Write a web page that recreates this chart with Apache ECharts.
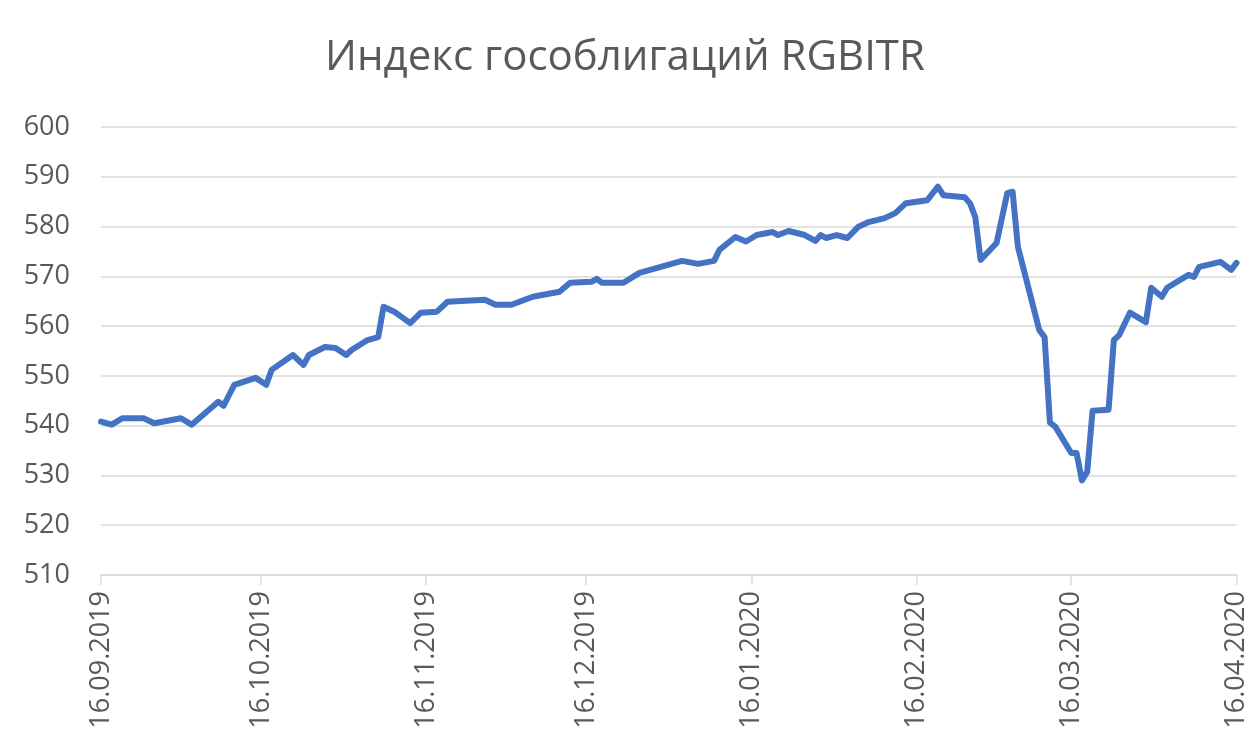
<!DOCTYPE html>
<html>
<head>
<meta charset="utf-8">
<script src="https://cdn.jsdelivr.net/npm/echarts@6/dist/echarts.min.js"></script>
<style>
  html, body { margin: 0; padding: 0; background: #fff; }
  #chart { width: 1250px; height: 739px; }
</style>
</head>
<body>
<div id="chart"></div>
<script>
// RGBITR
const dates = [
  '2019-09-16', '2019-09-18', '2019-09-20', '2019-09-24', '2019-09-26', '2019-10-01', '2019-10-03',
  '2019-10-08', '2019-10-09', '2019-10-11', '2019-10-15', '2019-10-17', '2019-10-18', '2019-10-22',
  '2019-10-24', '2019-10-25', '2019-10-28', '2019-10-30', '2019-11-01', '2019-11-02', '2019-11-05',
  '2019-11-07', '2019-11-08', '2019-11-10', '2019-11-13', '2019-11-15', '2019-11-18', '2019-11-20',
  '2019-11-27', '2019-11-29', '2019-12-02', '2019-12-06', '2019-12-11', '2019-12-13', '2019-12-17',
  '2019-12-18', '2019-12-19', '2019-12-23', '2019-12-26', '2019-12-28', '2020-01-03', '2020-01-06',
  '2020-01-09', '2020-01-10', '2020-01-13', '2020-01-15', '2020-01-17', '2020-01-20', '2020-01-21',
  '2020-01-23', '2020-01-26', '2020-01-28', '2020-01-29', '2020-01-30', '2020-02-01', '2020-02-03',
  '2020-02-05', '2020-02-07', '2020-02-10', '2020-02-12', '2020-02-14', '2020-02-18', '2020-02-20',
  '2020-02-21', '2020-02-25', '2020-02-26', '2020-02-27', '2020-02-28', '2020-03-02', '2020-03-04',
  '2020-03-05', '2020-03-06', '2020-03-10', '2020-03-11', '2020-03-12', '2020-03-13', '2020-03-16',
  '2020-03-17', '2020-03-18', '2020-03-19', '2020-03-20', '2020-03-23', '2020-03-24', '2020-03-25',
  '2020-03-27', '2020-03-30', '2020-03-31', '2020-04-02', '2020-04-03', '2020-04-07', '2020-04-08',
  '2020-04-09', '2020-04-13', '2020-04-15', '2020-04-16'
];
const values = [
  540.8, 540.2, 541.5, 541.5, 540.5, 541.5, 540.2,
  544.8, 544.0, 548.2, 549.6, 548.2, 551.2, 554.2,
  552.2, 554.2, 555.8, 555.6, 554.2, 555.2, 557.2,
  557.8, 563.9, 562.9, 560.6, 562.7, 562.9, 564.9,
  565.3, 564.3, 564.3, 565.9, 566.9, 568.7, 568.9,
  569.5, 568.7, 568.7, 570.7, 571.3, 573.1, 572.5,
  573.1, 575.3, 577.9, 577.0, 578.3, 578.9, 578.3,
  579.1, 578.3, 577.1, 578.3, 577.7, 578.3, 577.7,
  579.9, 580.9, 581.7, 582.7, 584.7, 585.3, 588.0,
  586.3, 585.9, 584.7, 581.9, 573.3, 576.7, 586.7,
  587.0, 575.9, 559.2, 557.8, 540.6, 539.8, 534.5,
  534.5, 529.0, 530.7, 543.0, 543.2, 557.2, 558.2,
  562.7, 560.8, 567.7, 565.9, 567.7, 570.3, 569.9,
  571.9, 572.9, 571.3, 572.7
];
const tickDates = [
  '2019-09-16', '2019-10-16', '2019-11-16', '2019-12-16',
  '2020-01-16', '2020-02-16', '2020-03-16', '2020-04-16'
];

// dates -> whole days since the first tick (UTC, so no DST drift)
const DAY = 86400000;
const utc = s => {
  const [y, m, d] = s.split('-').map(Number);
  return Date.UTC(y, m - 1, d);
};
const start = utc(tickDates[0]);
const dayOf = s => Math.round((utc(s) - start) / DAY);
const pad = n => (n < 10 ? '0' : '') + n;
const fmtDay = v => {
  const d = new Date(start + v * DAY);
  return pad(d.getUTCDate()) + '.' + pad(d.getUTCMonth() + 1) + '.' + d.getUTCFullYear();
};

const ticks = tickDates.map(dayOf);
const seriesData = dates.map((d, i) => [dayOf(d), values[i]]);

const chart = echarts.init(document.getElementById('chart'));
chart.setOption({
  animation: false,
  title: {
    text: 'Индекс гособлигаций RGBITR',
    left: 'center',
    top: 32,
    textStyle: {
      fontFamily: 'Open Sans',
      fontSize: 42,
      fontWeight: 'normal',
      color: '#595959'
    }
  },
  grid: { left: 101, right: 10, top: 127, bottom: 164 },
  xAxis: {
    type: 'value',
    min: ticks[0],
    max: ticks[ticks.length - 1],
    axisLine: { show: true, onZero: false, lineStyle: { color: '#d9d9d9', width: 1.5 } },
    axisTick: { show: true, customValues: ticks, length: 10, lineStyle: { color: '#d9d9d9', width: 1.5 } },
    axisLabel: {
      customValues: ticks,
      rotate: 90,
      margin: 16,
      formatter: v => fmtDay(v),
      fontFamily: 'Open Sans',
      fontSize: 27,
      color: '#595959'
    },
    splitLine: { show: false }
  },
  yAxis: {
    type: 'value',
    min: 510,
    max: 600,
    interval: 10,
    axisLine: { show: false },
    axisTick: { show: false },
    axisLabel: {
      margin: 31,
      fontFamily: 'Open Sans',
      fontSize: 27,
      color: '#595959'
    },
    splitLine: { lineStyle: { color: '#d9d9d9', width: 1.5 } }
  },
  series: [{
    type: 'line',
    data: seriesData,
    showSymbol: false,
    lineStyle: { color: '#4472C4', width: 6, join: 'round', cap: 'round' },
    z: 3
  }]
});
</script>
</body>
</html>
